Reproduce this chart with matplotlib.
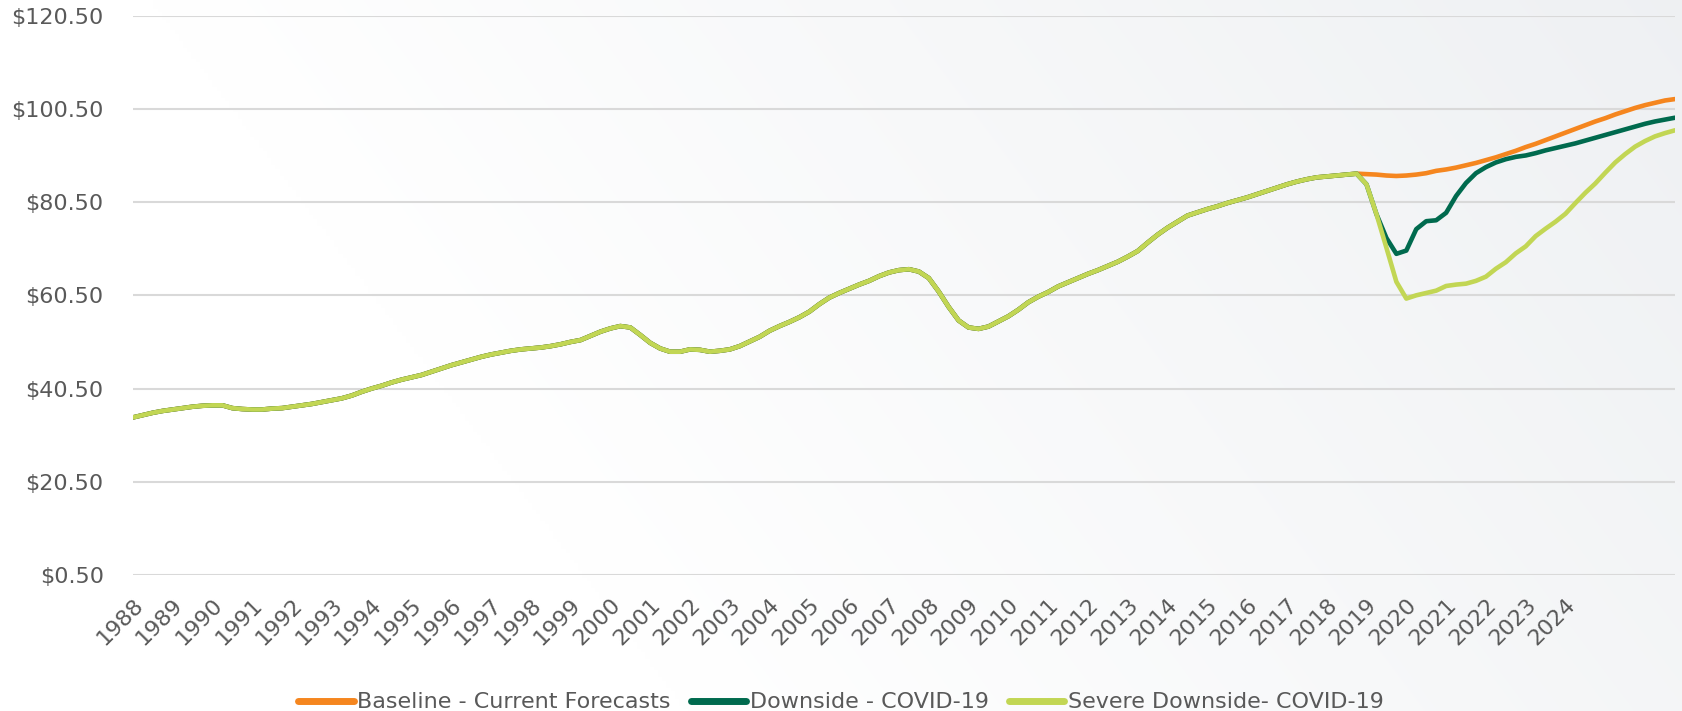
import matplotlib.pyplot as plt
import numpy as np

# quarterly data, 1988Q1 .. 2018Q4 (shared history)
history = [
    34.3, 34.8, 35.3, 35.7,   # 1988
    36.0, 36.3, 36.6, 36.8,   # 1989
    36.9, 36.9, 36.3, 36.1,   # 1990
    36.0, 36.0, 36.2, 36.3,   # 1991
    36.6, 36.9, 37.2, 37.6,   # 1992
    38.0, 38.4, 39.0, 39.8,   # 1993
    40.5, 41.1, 41.8, 42.4,   # 1994
    42.9, 43.4, 44.1, 44.8,   # 1995
    45.5, 46.1, 46.7, 47.3,   # 1996
    47.8, 48.2, 48.6, 48.9,   # 1997
    49.1, 49.3, 49.6, 50.0,   # 1998
    50.5, 50.9, 51.8, 52.7,   # 1999
    53.4, 53.9, 53.6, 52.0,   # 2000
    50.3, 49.1, 48.4, 48.4,   # 2001
    48.9, 48.8, 48.4, 48.6,   # 2002
    48.9, 49.6, 50.6, 51.6,   # 2003
    52.9, 53.9, 54.8, 55.8,   # 2004
    57.0, 58.6, 60.0, 61.0,   # 2005
    61.9, 62.8, 63.6, 64.6,   # 2006
    65.4, 65.9, 66.1, 65.6,   # 2007
    64.2, 61.3, 58.0, 55.1,   # 2008
    53.6, 53.3, 53.8, 54.9,   # 2009
    56.0, 57.4, 59.0, 60.2,   # 2010
    61.2, 62.4, 63.3, 64.2,   # 2011
    65.1, 65.9, 66.8, 67.7,   # 2012
    68.8, 70.0, 71.8, 73.5,   # 2013
    75.0, 76.3, 77.6, 78.3,   # 2014
    79.0, 79.6, 80.3, 80.9,   # 2015
    81.5, 82.2, 82.9, 83.6,   # 2016
    84.3, 84.9, 85.4, 85.8,   # 2017
    86.0, 86.2, 86.4, 86.6,   # 2018
]

# scenarios, 2019Q1 .. 2026Q4
baseline = [
    86.5, 86.4, 86.2, 86.1,
    86.2, 86.4, 86.7, 87.2,
    87.5, 87.9, 88.4, 88.9,
    89.5, 90.1, 90.8, 91.5,
    92.3, 93.0, 93.8, 94.6,
    95.4, 96.2, 97.0, 97.8,
    98.5, 99.3, 100.0, 100.7,
    101.3, 101.8, 102.3, 102.6,
]
downside = [
    84.3, 77.9, 72.8, 69.4,
    70.1, 74.7, 76.4, 76.6,
    78.2, 81.8, 84.6, 86.7,
    88.0, 89.0, 89.7, 90.2,
    90.5, 91.0, 91.6, 92.1,
    92.6, 93.1, 93.7, 94.3,
    94.9, 95.5, 96.1, 96.7,
    97.3, 97.8, 98.2, 98.6,
]
severe = [
    84.3, 77.9, 70.7, 63.4,
    59.8, 60.5, 61.0, 61.5,
    62.5, 62.8, 63.0, 63.6,
    64.5, 66.2, 67.6, 69.5,
    71.0, 73.2, 74.8, 76.3,
    78.0, 80.3, 82.5, 84.5,
    86.8, 89.0, 90.8, 92.4,
    93.6, 94.6, 95.3, 95.9,
]

series_names = ['Baseline - Current Forecasts', 'Downside - COVID-19', 'Severe Downside- COVID-19']
series_colors = ['#f5861f', '#006a4e', '#c2d654']
year_labels = [str(y) for y in range(1988, 2025)]

n = len(history) + len(baseline)
quarters = 1988 + np.arange(n) / 4

fig = plt.figure(figsize=(16.82, 7.11), dpi=100)

# soft grey background, lighter to the upper left
bg = fig.add_axes([0, 0, 1, 1], zorder=-10)
gx, gy = np.meshgrid(np.linspace(0, 1, 400), np.linspace(1, 0, 200))
t = np.clip(gx * 1.1 + gy * 0.35 - 0.45, 0, 1)
white = np.array([1.0, 1.0, 1.0])
grey = np.array([0.935, 0.943, 0.952])
img = white[None, None, :] * (1 - t[..., None]) + grey[None, None, :] * t[..., None]
bg.imshow(img, aspect='auto', extent=[0, 1, 0, 1], interpolation='bilinear')
bg.set_xlim(0, 1)
bg.set_ylim(0, 1)
bg.axis('off')

ax = fig.add_axes([0.079, 0.1913, 0.9168, 0.7867])
ax.patch.set_alpha(0)

scen = [baseline, downside, severe]
for name, color, vals in zip(series_names, series_colors, scen):
    ax.plot(quarters, history + vals, color=color, lw=3.3, label=name,
            solid_capstyle='round', solid_joinstyle='round')

ax.set_xlim(quarters[0], quarters[-1])
ax.set_ylim(0.5, 120.5)
ax.set_yticks(np.arange(0.5, 121, 20))
ax.set_yticklabels([f'${v:.2f}' for v in np.arange(0.5, 121, 20)])
ax.set_xticks(range(1988, 2025))
ax.set_xticklabels(year_labels, rotation=45, ha='right', va='top', rotation_mode='anchor')

ax.grid(axis='y', color='#d9d9d9', lw=1.5)
ax.set_axisbelow(True)
for s in ax.spines.values():
    s.set_visible(False)
ax.tick_params(axis='both', length=0, labelsize=16, labelcolor='#595959')
ax.tick_params(axis='y', pad=21)
ax.tick_params(axis='x', pad=14)

leg = fig.legend(loc='lower center', bbox_to_anchor=(0.5, -0.03), ncol=3, frameon=False,
                 fontsize=16, handlelength=2.5, handletextpad=0.15, columnspacing=0.9,
                 labelcolor='#595959')
for line in leg.get_lines():
    line.set_linewidth(5)

plt.savefig('out.png', dpi=100)
